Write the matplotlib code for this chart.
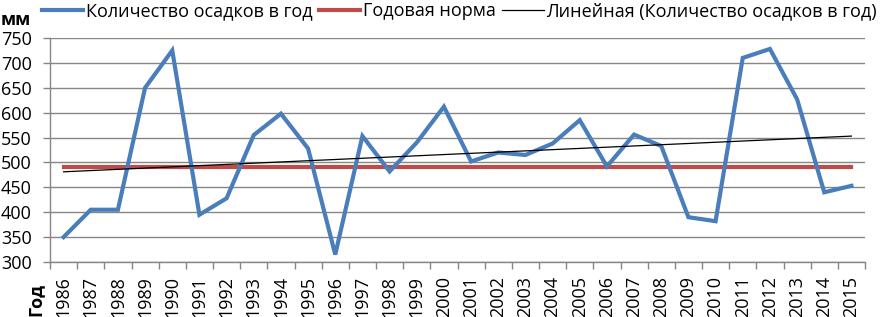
import numpy as np
import matplotlib
matplotlib.use("Agg")
import matplotlib.pyplot as plt

years = list(range(1986, 2016))
precip = [350, 405, 405, 650, 725, 395, 428, 555, 598, 528,
          315, 553, 482, 540, 612, 502, 520, 515, 538, 585,
          492, 556, 533, 390, 382, 710, 728, 627, 440, 453]
norm_value = 490
yticks = [300, 350, 400, 450, 500, 550, 600, 650, 700, 750]

plt.rcParams['font.family'] = ['Open Sans', 'DejaVu Sans']

fig = plt.figure(figsize=(8.8, 3.17), dpi=100)
ax = fig.add_axes([50/880, 1-262/317, 815/880, 224/317])

x = np.arange(len(years))
coef = np.polyfit(x, precip, 1)
trend = np.polyval(coef, x)

blue = '#4A7EBB'
red = '#BE4B48'
ax.plot(x, precip, color=blue, lw=3.0, solid_joinstyle='miter', label='Количество осадков в год', zorder=3)
ax.plot(x, [norm_value]*len(x), color=red, lw=3.0, label='Годовая норма', zorder=2)
ax.plot(x, trend, color='black', lw=0.9, label='Линейная (Количество осадков в год)', zorder=4)

ax.set_xlim(-0.5, len(years)-0.5)
ax.set_ylim(300, 750)
ax.set_yticks(yticks)
ax.set_yticklabels([str(v) for v in yticks], fontsize=13)
ax.yaxis.grid(True, color='#868686', lw=1)
ax.set_axisbelow(True)

ax.set_xticks(x)
ax.set_xticklabels([str(y) for y in years], rotation=90, fontsize=13, va='top')
ax.tick_params(axis='x', length=0, pad=10)
ax.set_xticks(np.arange(-0.5, len(years)), minor=True)
ax.tick_params(axis='x', which='minor', length=5, color='#868686', width=1)
ax.tick_params(axis='y', length=5, color='#868686', width=1, pad=8)

for s in ['top', 'right']:
    ax.spines[s].set_visible(False)
for s in ['left', 'bottom']:
    ax.spines[s].set_color('#868686')
    ax.spines[s].set_linewidth(1)

fig.text(1/880, 1-20/317, 'мм', fontsize=13, fontweight='bold', va='center', ha='left')
fig.text(27/880, 1-283/317, 'Год', fontsize=13, fontweight='bold', rotation=90, va='top', ha='left')

fig.legend(loc='upper center', bbox_to_anchor=(0.522, 1.045), ncol=3, frameon=False,
           fontsize=13, handlelength=2.3, handletextpad=0.15, columnspacing=0.35)

fig.savefig('out.png', dpi=100)
